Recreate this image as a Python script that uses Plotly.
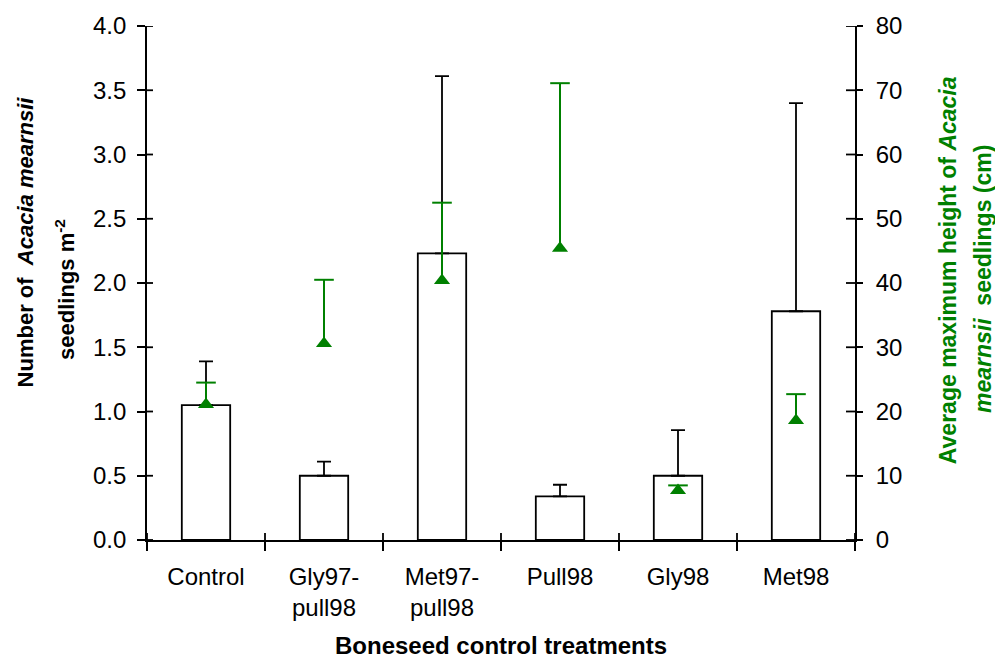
import plotly.graph_objects as go

# Boneseed control treatments and the Acacia mearnsii responses
treatments = ["Control", "Gly97-<br>pull98", "Met97-<br>pull98", "Pull98", "Gly98", "Met98"]
seedling_density = [1.05, 0.50, 2.23, 0.34, 0.50, 1.78]        # seedlings per m2
seedling_density_err = [0.34, 0.11, 1.38, 0.09, 0.355, 1.62]
max_height = [21.1, 30.6, 40.4, 45.4, 7.7, 18.6]               # cm
max_height_err = [3.4, 9.9, 12.1, 25.7, 0.8, 4.1]

left_ticks = [0.0, 0.5, 1.0, 1.5, 2.0, 2.5, 3.0, 3.5, 4.0]
right_ticks = [0, 10, 20, 30, 40, 50, 60, 70, 80]

GREEN = "#008000"
FONT = "Arial, Liberation Sans, sans-serif"

fig = go.Figure()

# density bars with upper error bars
fig.add_trace(go.Bar(
    x=treatments, y=seedling_density, width=0.41,
    marker=dict(color="white", line=dict(color="black", width=1.8)),
    error_y=dict(type="data", symmetric=False, array=seedling_density_err,
                 arrayminus=[0] * len(seedling_density),
                 color="black", thickness=1.8, width=7),
    showlegend=False,
))

# upper error stems and caps for seedling height
stem_x, stem_y = [], []
for t, v, e in zip(treatments, max_height, max_height_err):
    stem_x += [t, t, None]
    stem_y += [v, v + e, None]
fig.add_trace(go.Scatter(
    x=stem_x, y=stem_y, mode="lines",
    line=dict(color=GREEN, width=2), yaxis="y2", showlegend=False,
    hoverinfo="skip",
))
fig.add_trace(go.Scatter(
    x=treatments, y=[v + e for v, e in zip(max_height, max_height_err)],
    mode="markers",
    marker=dict(symbol="line-ew", size=14, line=dict(color=GREEN, width=2)),
    yaxis="y2", showlegend=False, hoverinfo="skip",
))
# seedling height means
fig.add_trace(go.Scatter(
    x=treatments, y=max_height, mode="markers",
    marker=dict(symbol="triangle-up", size=14, color=GREEN),
    yaxis="y2", showlegend=False,
))

tickfont = dict(family=FONT, size=24, color="black")
axis_common = dict(showgrid=False, zeroline=False)

# inner halves of the crossing tick marks
tick_line = dict(color="black", width=1.8)
shapes = []
for v in left_ticks:
    shapes.append(dict(type="line", xref="paper", xsizemode="pixel", xanchor=0,
                       x0=0, x1=6, yref="y", y0=v, y1=v, line=tick_line))
for v in right_ticks:
    shapes.append(dict(type="line", xref="paper", xsizemode="pixel", xanchor=1,
                       x0=-9, x1=0, yref="y2", y0=v, y1=v, line=tick_line))
for i in range(len(treatments) + 1):
    shapes.append(dict(type="line", yref="paper", ysizemode="pixel", yanchor=0,
                       y0=0, y1=7, xref="x", x0=i - 0.5, x1=i - 0.5, line=tick_line))

annotations = [
    dict(text="<b>Number of  <i>Acacia mearnsii</i></b>", textangle=-90,
         xref="paper", yref="paper", x=-0.1723, y=0.579, showarrow=False,
         xanchor="center", yanchor="middle",
         font=dict(family=FONT, size=22, color="black")),
    dict(text="<b>seedlings m<sup>-2</sup></b>", textangle=-90,
         xref="paper", yref="paper", x=-0.1158, y=0.4865, showarrow=False,
         xanchor="center", yanchor="middle",
         font=dict(family=FONT, size=22, color="black")),
    dict(text="<b>Average maximum height of <i>Acacia</i></b>", textangle=-90,
         xref="paper", yref="paper", x=1.1314, y=0.525, showarrow=False,
         xanchor="center", yanchor="middle",
         font=dict(family=FONT, size=23, color=GREEN)),
    dict(text="<b><i>mearnsii</i>  seedlings (cm)</b>", textangle=-90,
         xref="paper", yref="paper", x=1.1808, y=0.5077, showarrow=False,
         xanchor="center", yanchor="middle",
         font=dict(family=FONT, size=23, color=GREEN)),
    dict(text="<b>Boneseed control treatments</b>",
         xref="paper", yref="paper", x=0.5, y=-0.2046, showarrow=False,
         xanchor="center", yanchor="middle",
         font=dict(family=FONT, size=24, color="black")),
]

fig.update_layout(
    width=995, height=664,
    margin=dict(l=147, r=140, t=22, b=124),
    paper_bgcolor="white", plot_bgcolor="white",
    font=dict(family=FONT, color="black"),
    shapes=shapes, annotations=annotations,
    xaxis=dict(
        type="category", categoryarray=treatments, range=[-0.5, 5.5],
        tickson="boundaries", ticks="outside", ticklen=9, tickwidth=1.8,
        tickcolor="black", showline=True, linewidth=1.8, linecolor="black",
        tickfont=tickfont, ticklabelstandoff=14,
        **axis_common,
    ),
    yaxis=dict(
        range=[0, 4], tickvals=left_ticks, tickformat=".1f",
        ticks="outside", ticklen=8, tickwidth=1.8, tickcolor="black",
        showline=True, linewidth=1.8, linecolor="black",
        tickfont=tickfont, ticklabelstandoff=6,
        **axis_common,
    ),
    yaxis2=dict(
        overlaying="y", side="right", anchor="x", range=[0, 80], tickvals=right_ticks,
        ticks="outside", ticklen=6, tickwidth=1.8, tickcolor="black",
        showline=True, linewidth=1.8, linecolor="black",
        tickfont=tickfont, ticklabelstandoff=8,
        **axis_common,
    ),
)

fig.write_html("out.html")
